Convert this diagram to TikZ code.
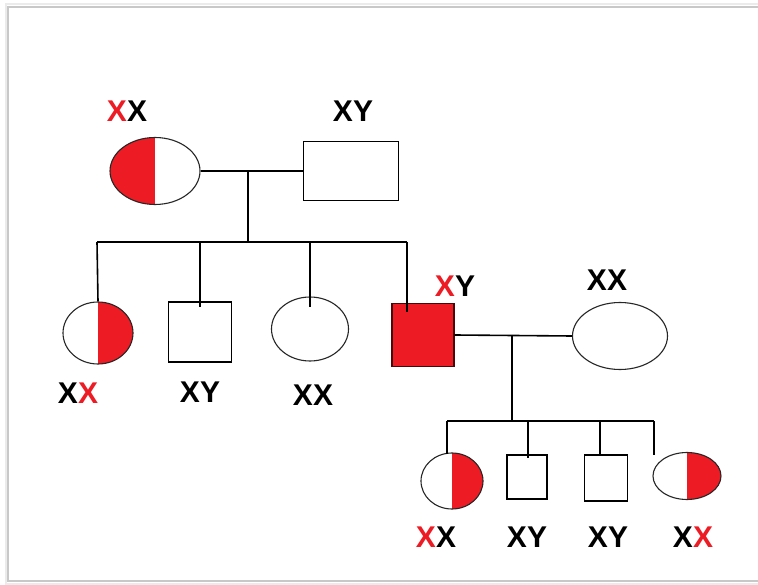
\documentclass[tikz,border=0pt]{standalone}
\usepackage{fontspec}
\setmainfont{Liberation Sans}
\usetikzlibrary{shapes.geometric}
\definecolor{pred}{RGB}{237,28,36}
\definecolor{frameg}{RGB}{200,200,200}
\tikzset{
  female/.style={ellipse,draw=black!85,line width=1.1pt,inner sep=0pt,fill=white},
  male/.style={rectangle,draw=black,line width=1.6pt,inner sep=0pt,fill=white},
  affmale/.style={rectangle,draw=black!70!pred,line width=1.4pt,inner sep=0pt,fill=pred},
  lefthalf/.style={path picture={\fill[pred] (path picture bounding box.north) rectangle (path picture bounding box.south west);}},
  righthalf/.style={path picture={\fill[pred] (path picture bounding box.north) rectangle (path picture bounding box.south east);}},
  geno/.style={font=\bfseries\fontsize{30}{30}\selectfont,inner sep=0pt},
  link/.style={draw=black,line width=1.6pt}
}
\begin{document}
\begin{tikzpicture}[x=1pt,y=-1pt]
\useasboundingbox (0,0) rectangle (758,585);
\fill[white] (0,0) rectangle (758,585);
% frame
\draw[frameg,line width=2pt] (758,7) -- (8,7) -- (8,581) -- (758,581);
\draw[black!8,line width=2pt] (758,4.5) -- (5.5,4.5) -- (5.5,583.5) -- (758,583.5);

% Generation I
\node[female,lefthalf,minimum width=90pt,minimum height=67pt] (g1f) at (155,171) {};
\node[male,minimum width=95pt,minimum height=59pt] (g1m) at (351,171) {};
\node[geno] (l1f) at (127,111) {{\color{pred}X}X};
\node[geno] (l1m) at (353,111) {XY};

% Generation II
\node[female,righthalf,minimum width=70pt,minimum height=62pt] (c1) at (98,333) {};
\node[male,minimum width=63pt,minimum height=60pt] (c2) at (200,332) {};
\node[female,minimum width=77pt,minimum height=64pt] (c3) at (310,329) {};
\node[affmale,minimum width=62pt,minimum height=63pt] (c4) at (423,335) {};
\node[female,minimum width=95pt,minimum height=67pt] (sp) at (620,336) {};
\node[geno] (lc1) at (78,393) {X{\color{pred}X}};
\node[geno] (lc2) at (200,392) {XY};
\node[geno] (lc3) at (313,395) {XX};
\node[geno] (lc4) at (455,286) {{\color{pred}X}Y};
\node[geno] (lsp) at (607,280) {XX};

% Generation III
\node[female,righthalf,minimum width=62pt,minimum height=56pt] (d1) at (452,481) {};
\node[male,minimum width=40pt,minimum height=44pt] (d2) at (527,477) {};
\node[male,minimum width=43pt,minimum height=46pt] (d3) at (606,478) {};
\node[female,righthalf,minimum width=68pt,minimum height=47pt] (d4) at (687,476) {};
\node[geno] (ld1) at (436,537) {{\color{pred}X}X};
\node[geno] (ld2) at (527,537) {XY};
\node[geno] (ld3) at (608,537) {XY};
\node[geno] (ld4) at (693,537) {X{\color{pred}X}};

% connector points
\coordinate (m1) at (248,171);
\coordinate (s1) at (248,242);
\coordinate (s1a) at (97,242);
\coordinate (s1b) at (200,242);
\coordinate (s1c) at (310,242);
\coordinate (s1d) at (407,242);
\coordinate (c2in) at (200,307);
\coordinate (c3in) at (310,307);
\coordinate (c4in) at (407,312);
\coordinate (m2) at (512,335);
\coordinate (s2) at (512,421);
\coordinate (s2a) at (447,421);
\coordinate (s2b) at (528,421);
\coordinate (s2c) at (600,421);
\coordinate (s2d) at (654,421);
\coordinate (d1top) at (447,454);
\coordinate (d2in) at (528,458);
\coordinate (d3top) at (600,456);
\coordinate (d4end) at (654,455);

% Generation I links
\draw[link] (g1f.east) -- (g1m.west);
\draw[link] (m1) -- (s1);
\draw[link] (s1a) -- (s1d);
\draw[link] (s1a) -- (c1.north);
\draw[link] (s1b) -- (c2in);
\draw[link] (s1c) -- (c3in);
\draw[link] (s1d) -- (c4in);

% Generation II links
\draw[link] (c4.east) -- (sp.west);
\draw[link] (m2) -- (s2);
\draw[link] (s2a) -- (s2d);
\draw[link] (s2a) -- (d1top);
\draw[link] (s2b) -- (d2in);
\draw[link] (s2c) -- (d3top);
\draw[link] (s2d) -- (d4end);
\end{tikzpicture}
\end{document}
